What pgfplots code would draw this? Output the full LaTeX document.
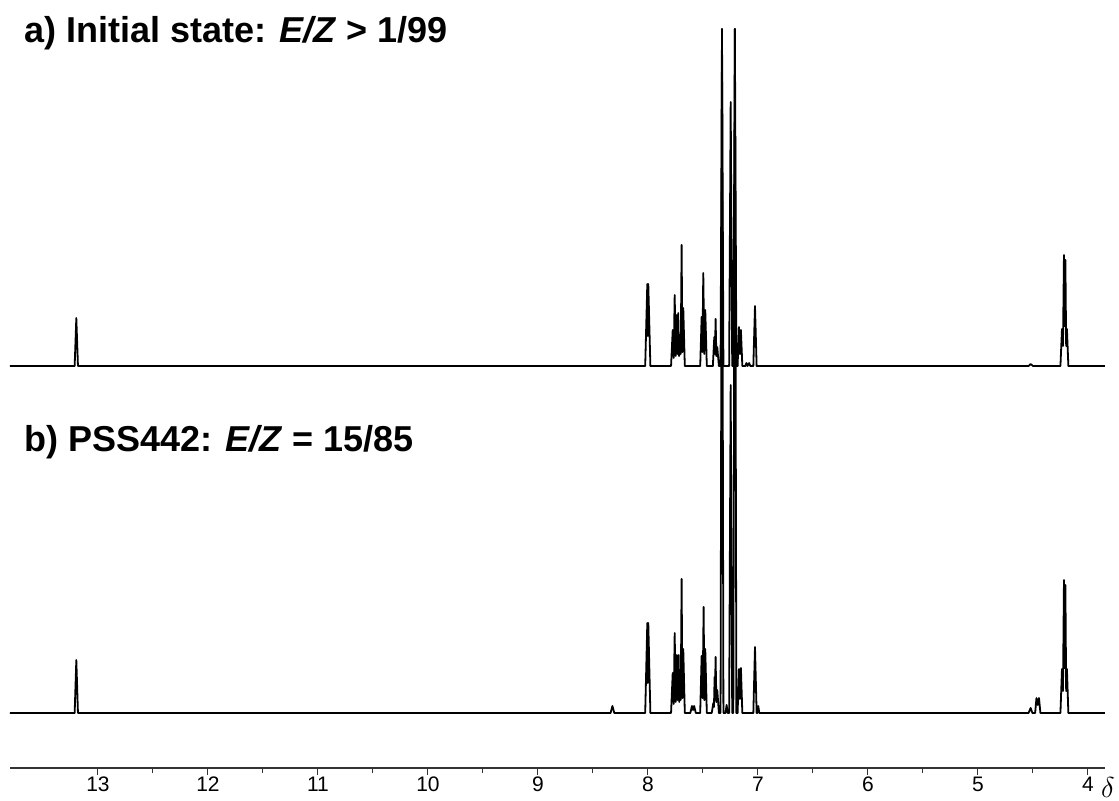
\documentclass[border=0pt]{standalone}
\usepackage{pgfplots}
\pgfplotsset{compat=1.18}
\usepackage{fontspec}
\setmainfont{Liberation Sans}
\newfontfamily\titlefont{Liberation Sans}
\begin{document}
\begin{tikzpicture}
\path[use as bounding box] (-5pt,-16pt) rectangle (554.5pt,384pt);
\begin{axis}[
  scale only axis,
  width=547.5pt, height=384pt,
  at={(0pt,0pt)}, anchor=south west,
  xmin=3.845, xmax=13.8, ymin=0, ymax=768,
  x dir=reverse,
  axis x line=bottom, axis y line=none,
  x axis line style={-, line width=0.7pt, black!80},
  xtick={4,5,6,7,8,9,10,11,12,13},
  minor x tick num=1,
  tick align=outside,
  major tick length=3.5pt, minor tick length=2.5pt,
  every tick/.style={black!80, line width=0.5pt},
  /pgf/number format/assume math mode=true,
  ticklabel style={font=\fontsize{10.5}{12}\selectfont},
  xticklabel style={yshift=2.5pt},
  clip=false,
]
\addplot[black, line width=0.9pt, line join=round] table[y expr=\thisrow{y}+402] {
x y
13.80 0
13.212 0
13.197 48
13.182 0
8.025 0
8.006 82
8.0015 30
7.997 82
7.978 0
7.79 0
7.775 36
7.766 8
7.757 71
7.748 10
7.739 51
7.732 12
7.725 53
7.717 10
7.709 31
7.702 12
7.694 121
7.687 14
7.679 58
7.665 0
7.525 0
7.512 49
7.505 14
7.497 93
7.488 12
7.479 56
7.465 0
7.41 0
7.397 29
7.391 12
7.385 47
7.378 10
7.370 19
7.355 0
7.340 0
7.327 337
7.314 0
7.262 0
7.248 264
7.234 0
7.224 0
7.210 337
7.196 0
7.185 0
7.173 39
7.164 12
7.155 36
7.142 0
7.115 0
7.105 3
7.095 0
7.08 3
7.07 0
7.042 0
7.027 60
7.012 0
4.54 0
4.521 2
4.50 0
4.25 0
4.236 37
4.227 20
4.218 111
4.212 40
4.205 106
4.198 20
4.191 37
4.178 0
3.845 0
};
\addplot[black, line width=0.9pt, line join=round] table[y expr=\thisrow{y}+55] {
x y
13.80 0
13.212 0
13.197 53
13.182 0
8.34 0
8.323 7
8.306 0
8.025 0
8.006 90
8.0015 30
7.997 90
7.978 0
7.79 0
7.775 40
7.766 9
7.757 80
7.748 11
7.739 58
7.730 13
7.721 58
7.715 11
7.709 33
7.702 13
7.694 134
7.687 15
7.679 64
7.665 0
7.615 0
7.60 7
7.59 3
7.58 7
7.565 0
7.525 0
7.512 57
7.503 15
7.494 106
7.487 13
7.479 64
7.465 0
7.42 0
7.406 10
7.400 6
7.394 36
7.390 25
7.385 56
7.378 11
7.370 23
7.355 0
7.340 0
7.327 684
7.314 0
7.295 0
7.285 8
7.275 0
7.262 0
7.248 328
7.234 0
7.224 0
7.210 684
7.196 0
7.185 0
7.173 44
7.164 14
7.155 45
7.142 0
7.042 0
7.027 66
7.012 0
7.005 0
6.997 7
6.988 0
4.54 0
4.521 5
4.505 0
4.48 0
4.468 15
4.456 8
4.445 15
4.432 0
4.25 0
4.236 44
4.227 22
4.218 133
4.212 45
4.205 128
4.198 22
4.191 44
4.178 0
3.845 0
};
\node[anchor=base west, inner sep=0pt, font=\titlefont\bfseries\fontsize{18}{20}\selectfont] at (rel axis cs:0.0128,0.9453) {a) Initial state: \textit{E/Z} > 1/99};
\node[anchor=base west, inner sep=0pt, font=\titlefont\bfseries\fontsize{18}{20}\selectfont] at (rel axis cs:0.0128,0.4115) {b) PSS442: \textit{E/Z} = 15/85};
\node[anchor=center, inner sep=0pt, font=\fontsize{14}{16}\selectfont] at ([xshift=1.5pt,yshift=-9.5pt]rel axis cs:1,0) {$\delta$};
\end{axis}
\end{tikzpicture}
\end{document}
